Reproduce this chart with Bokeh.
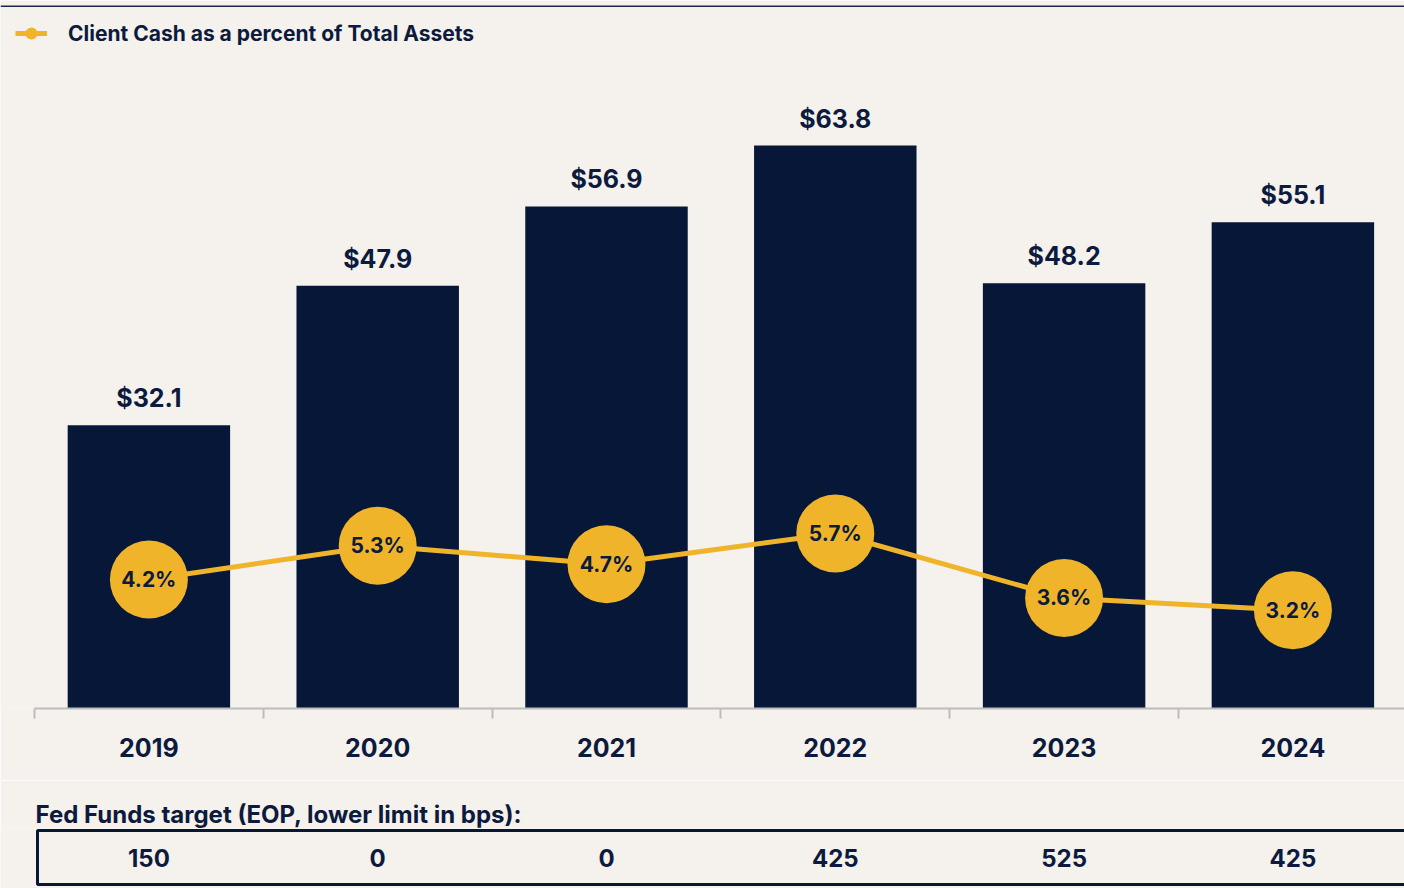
from bokeh.plotting import figure
from bokeh.models import (Range1d, FixedTicker, Legend, LegendItem, Span, BoxAnnotation,
                          ColumnDataSource, CustomJSTickFormatter)
from bokeh.layouts import column
from bokeh.embed import file_html
from bokeh.resources import INLINE
from bokeh.core.properties import value

# ---------------- data ----------------
years = ["2019", "2020", "2021", "2022", "2023", "2024"]
client_cash = [32.1, 47.9, 56.9, 63.8, 48.2, 55.1]          # $ billions
cash_pct = [4.2, 5.3, 4.7, 5.7, 3.6, 3.2]                    # % of total assets
fed_funds = [150, 0, 0, 425, 525, 425]                        # bps
legend_label = "Client Cash as a percent of Total Assets"
table_title = "Fed Funds target (EOP, lower limit in bps):"

# ---------------- style ----------------
BG = "#F5F1EC"
NAVY = "#061738"
TEXT = "#0B1A3D"
GOLD = "#F0B42A"
GREY = "#BDBDBD"
FONT = "Inter"

W = 1404
CAT_PX = 228.8      # width of one category slot in pixels
AXIS_LEFT = 34      # pixel where the category axis starts

xs = [i + 0.5 for i in range(len(years))]
src = ColumnDataSource(dict(
    x=xs, year=years, cash=client_cash,
    cash_lbl=[f"${v:.1f}" for v in client_cash],
    pct=cash_pct, pct_lbl=[f"{v:.1f}%" for v in cash_pct],
))

x_range = Range1d(-AXIS_LEFT / CAT_PX, (W - AXIS_LEFT) / CAT_PX)
FRAME_H = 703
Y_END = FRAME_H / 8.824
PCT_END = FRAME_H / 30.7
H1 = 780

p = figure(width=W, height=H1, x_range=x_range, y_range=Range1d(0, Y_END),
           output_backend="svg", toolbar_location=None,
           min_border_left=0, min_border_right=0, min_border_top=5,
           min_border_bottom=H1 - 5 - FRAME_H,
           background_fill_color=BG, border_fill_color=BG,
           outline_line_color=None, y_axis_type=None)
p.extra_y_ranges = {"pct": Range1d(0, PCT_END)}
p.grid.visible = False

ax = p.xaxis[0]
ax.bounds = (0, len(years))
ax.ticker = FixedTicker(ticks=xs, minor_ticks=list(range(len(years) + 1)))
ax.formatter = CustomJSTickFormatter(args=dict(labels=years),
                                     code="return labels[Math.round(tick - 0.5)]")
ax.axis_line_color = GREY
ax.axis_line_width = 2
ax.major_tick_out = 0
ax.major_tick_in = 0
ax.minor_tick_out = 10
ax.minor_tick_in = 0
ax.minor_tick_line_color = GREY
ax.minor_tick_line_width = 2
ax.major_label_text_font = FONT
ax.major_label_text_font_size = "25px"
ax.major_label_text_font_style = "bold"
ax.major_label_text_color = TEXT
ax.major_label_standoff = 19

p.add_layout(Span(location=Y_END, dimension="width", line_color="#1C2847", line_width=3))

p.vbar(x="x", top="cash", width=0.71, source=src, fill_color=NAVY, line_color=None)
p.text(x="x", y="cash", text="cash_lbl", source=src, text_align="center",
       text_baseline="bottom", y_offset=-12, text_font=value(FONT),
       text_font_size="25px", text_font_style="bold", text_color=TEXT)

ln = p.line("x", "pct", source=src, y_range_name="pct", line_color=GOLD, line_width=5)
sc = p.scatter("x", "pct", source=src, y_range_name="pct", size=78,
               fill_color=GOLD, line_color=None)
p.text(x="x", y="pct", text="pct_lbl", source=src, y_range_name="pct",
       text_align="center", text_baseline="middle", text_font=value(FONT),
       text_font_size="21px", text_font_style="bold", text_color=TEXT)

legend = Legend(items=[LegendItem(label=legend_label, renderers=[ln, sc])],
                location=(15, FRAME_H - 43), orientation="horizontal",
                glyph_width=32, glyph_height=30, label_height=30, label_standoff=21,
                padding=0, margin=0, background_fill_alpha=0, border_line_color=None,
                label_text_font=FONT, label_text_font_size="21px",
                label_text_font_style="bold", label_text_color=TEXT)
p.add_layout(legend)

# ---------------- table ----------------
H2 = 888 - H1
T_TOP = 48           # frame top inside the table figure
T_FRAME = H2 - T_TOP
BOX_PX = 54          # height of the table box in pixels
t_y0 = -4 / BOX_PX
t = figure(width=W, height=H2, x_range=x_range,
           y_range=Range1d(t_y0, t_y0 + T_FRAME / BOX_PX),
           output_backend="svg", toolbar_location=None,
           min_border_left=0, min_border_right=0, min_border_top=T_TOP,
           min_border_bottom=0, x_axis_type=None, y_axis_type=None,
           background_fill_color=BG, border_fill_color=BG,
           outline_line_color=None, title=table_title)
t.grid.visible = False
t.title.text_font = FONT
t.title.text_font_size = "24px"
t.title.text_font_style = "bold"
t.title.text_color = TEXT
t.title.align = "left"
t.title.standoff = 0
t.title.offset = 35
t.add_layout(BoxAnnotation(left=3 / CAT_PX, right=len(years) + 0.1, bottom=0, top=1,
                           fill_alpha=0, line_color=NAVY, line_width=3, line_alpha=1))
t.text(x=xs, y=[0.5] * len(xs), text=[str(v) for v in fed_funds],
       text_align="center", text_baseline="middle", text_font=value(FONT),
       text_font_size="24px", text_font_style="bold", text_color=TEXT)

layout = column(p, t)
open("out.html", "w").write(file_html(layout, INLINE))
